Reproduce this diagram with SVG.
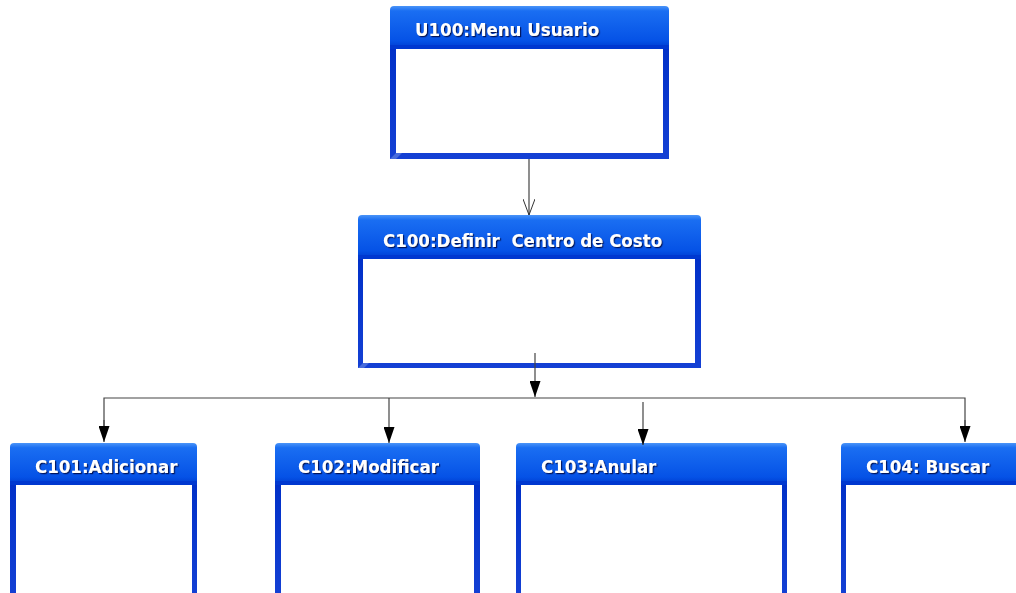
<svg xmlns="http://www.w3.org/2000/svg" width="1016" height="593" viewBox="0 0 1016 593">
<defs>
<linearGradient id="hdr" x1="0" y1="0" x2="0" y2="1">
<stop offset="0" stop-color="#4a94f8"/>
<stop offset="0.12" stop-color="#1a6ef2"/>
<stop offset="0.85" stop-color="#0552e6"/>
<stop offset="1" stop-color="#0040d4"/>
</linearGradient>
<linearGradient id="frame" x1="0" y1="0" x2="0" y2="1">
<stop offset="0" stop-color="#0030c8"/>
<stop offset="1" stop-color="#1440d4"/>
</linearGradient>
<filter id="sh" x="-10%" y="-30%" width="120%" height="160%">
<feDropShadow dx="1.2" dy="1.2" stdDeviation="0.4" flood-color="#001050" flood-opacity="0.9"/>
</filter>
<marker id="open" viewBox="0 0 16 12" refX="16" refY="6" markerWidth="16" markerHeight="12" markerUnits="userSpaceOnUse" orient="auto">
<path d="M0,0 L16,6 L0,12" fill="none" stroke="#333" stroke-width="1"/>
</marker>
<marker id="fill" viewBox="0 0 16 11" refX="16" refY="5.5" markerWidth="16" markerHeight="11" markerUnits="userSpaceOnUse" orient="auto">
<path d="M0,0 L16,5.5 L0,11 Z" fill="#000"/>
</marker>
</defs>
<style>
.hdr{fill:url(#hdr)}
.band{fill:#0038d0}
.frame{fill:url(#frame)}
.bevel{fill:#5f80e0}
.inner{fill:#ffffff}
.lbl{font-family:"DejaVu Sans Condensed","DejaVu Sans",sans-serif;font-weight:bold;font-size:18.5px;fill:#ffffff;filter:url(#sh);white-space:pre}
.con{fill:none;stroke:#444;stroke-width:1.2}
</style>
<rect width="1016" height="593" fill="#ffffff"/>

<g id="U100">
<rect class="frame" x="390" y="45" width="279" height="114"/>
<path class="bevel" d="M390,159 L396,153 L402,153 L396,159 Z" opacity="0.7"/>
<rect class="inner" x="396" y="49" width="267" height="104"/>
<path class="hdr" d="M390,47 L390,10 Q390,6 394,6 L665,6 Q669,6 669,10 L669,47 Z"/>
<rect class="band" x="390" y="45" width="279" height="4"/>
<text class="lbl" x="415" y="36">U100:Menu Usuario</text>
</g>

<g id="C100">
<rect class="frame" x="358" y="255" width="343" height="113"/>
<path class="bevel" d="M358,368 L363,363 L369,363 L364,368 Z" opacity="0.7"/>
<rect class="inner" x="363" y="259" width="332" height="104"/>
<path class="hdr" d="M358,257 L358,219 Q358,215 362,215 L697,215 Q701,215 701,219 L701,257 Z"/>
<rect class="band" x="358" y="255" width="343" height="4"/>
<text class="lbl" x="383" y="247">C100:Definir  Centro de Costo</text>
</g>

<g id="C101">
<rect class="frame" x="10" y="481" width="187" height="115"/>
<rect class="inner" x="16" y="485" width="176" height="110"/>
<path class="hdr" d="M10,483 L10,447 Q10,443 14,443 L193,443 Q197,443 197,447 L197,483 Z"/>
<rect class="band" x="10" y="481" width="187" height="4"/>
<text class="lbl" x="35" y="473">C101:Adicionar</text>
</g>

<g id="C102">
<rect class="frame" x="275" y="481" width="205" height="115"/>
<rect class="inner" x="281" y="485" width="193" height="110"/>
<path class="hdr" d="M275,483 L275,447 Q275,443 279,443 L476,443 Q480,443 480,447 L480,483 Z"/>
<rect class="band" x="275" y="481" width="205" height="4"/>
<text class="lbl" x="298" y="473">C102:Modificar</text>
</g>

<g id="C103">
<rect class="frame" x="516" y="481" width="271" height="115"/>
<rect class="inner" x="521" y="485" width="261" height="110"/>
<path class="hdr" d="M516,483 L516,447 Q516,443 520,443 L783,443 Q787,443 787,447 L787,483 Z"/>
<rect class="band" x="516" y="481" width="271" height="4"/>
<text class="lbl" x="541" y="473">C103:Anular</text>
</g>

<g id="C104">
<rect class="frame" x="841" y="481" width="190" height="115"/>
<rect class="inner" x="846" y="485" width="180" height="110"/>
<path class="hdr" d="M841,483 L841,447 Q841,443 845,443 L1031,443 L1031,483 Z"/>
<rect class="band" x="841" y="481" width="190" height="4"/>
<text class="lbl" x="866" y="473">C104: Buscar</text>
</g>

<g id="connectors">
<line class="con" x1="529" y1="159" x2="529" y2="215" marker-end="url(#open)"/>
<line class="con" x1="535" y1="353" x2="535" y2="397" stroke="#000" marker-end="url(#fill)"/>
<polyline class="con" points="104,430 104,398 965,398 965,430"/>
<line class="con" x1="104" y1="420" x2="104" y2="442" marker-end="url(#fill)"/>
<line class="con" x1="965" y1="420" x2="965" y2="442" marker-end="url(#fill)"/>
<line class="con" x1="389" y1="398" x2="389" y2="443" marker-end="url(#fill)"/>
<line class="con" x1="643" y1="402" x2="643" y2="445" marker-end="url(#fill)"/>
</g>
</svg>
